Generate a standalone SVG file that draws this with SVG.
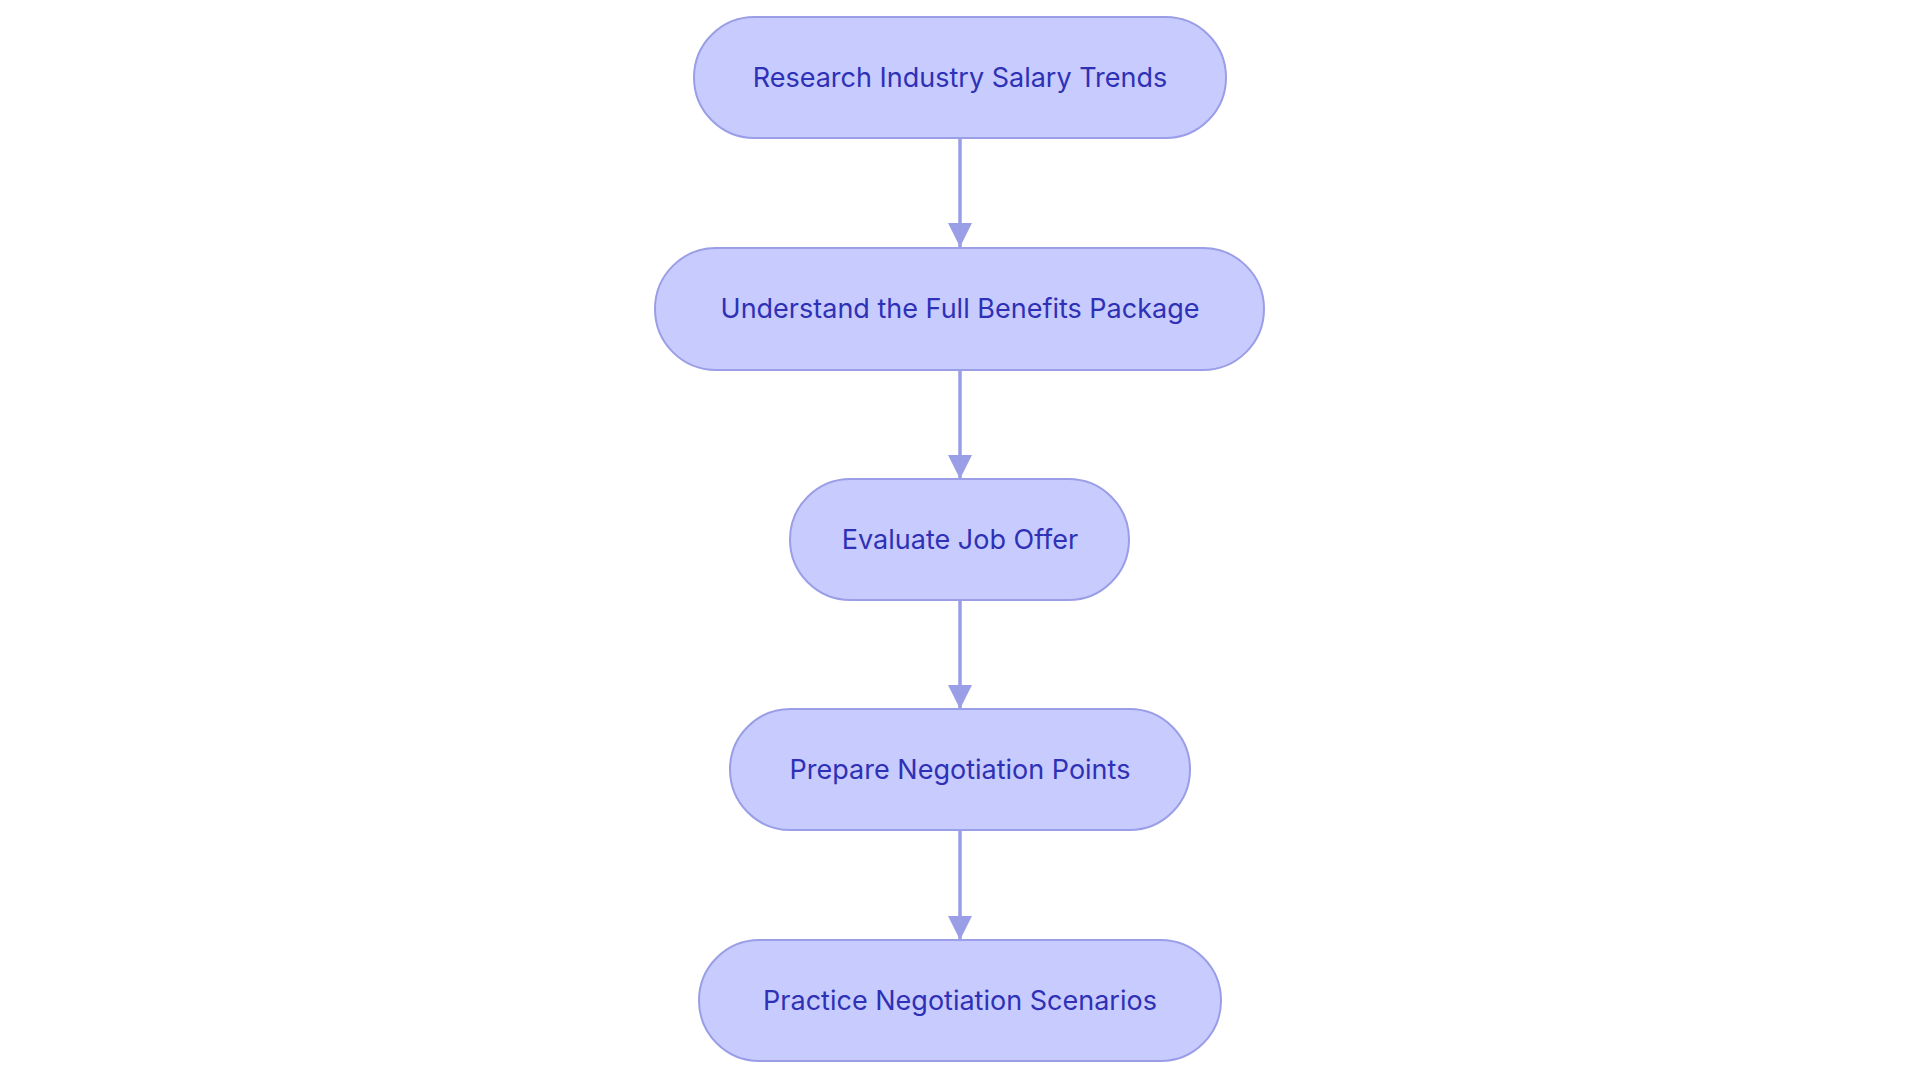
<svg xmlns="http://www.w3.org/2000/svg" width="1920" height="1083" viewBox="0 0 1920 1083">
<style>
.n rect{fill:#c8cbfe;stroke:#9a9ee6;stroke-width:2}
.n text{font-family:Inter,"Noto Sans",sans-serif;font-size:27px;fill:#2e31b5;text-anchor:middle;dominant-baseline:central}
.e line{stroke:#9a9ee6;stroke-width:3.5}
</style>
<defs><marker id="a" viewBox="0 0 10 10" refX="10" refY="5" markerWidth="7" markerHeight="7" markerUnits="strokeWidth" orient="auto"><path d="M0,0L10,5L0,10z" fill="#9a9ee6"/></marker></defs>
<rect width="1920" height="1083" fill="#fff"/>
<g class="e">
<line x1="960" y1="139" x2="960" y2="247" marker-end="url(#a)"/>
<line x1="960" y1="371" x2="960" y2="479" marker-end="url(#a)"/>
<line x1="960" y1="601" x2="960" y2="709" marker-end="url(#a)"/>
<line x1="960" y1="831" x2="960" y2="940" marker-end="url(#a)"/>
</g>
<g id="n1" class="n"><rect x="694" y="17" width="532" height="121" rx="60.5"/><text x="960" y="77">Research Industry Salary Trends</text></g>
<g id="n2" class="n"><rect x="655" y="248" width="609" height="122" rx="61"/><text x="960" y="308">Understand the Full Benefits Package</text></g>
<g id="n3" class="n"><rect x="790" y="479" width="339" height="121" rx="60.5"/><text x="960" y="539">Evaluate Job Offer</text></g>
<g id="n4" class="n"><rect x="730" y="709" width="460" height="121" rx="60.5"/><text x="960" y="769">Prepare Negotiation Points</text></g>
<g id="n5" class="n"><rect x="699" y="940" width="522" height="121" rx="60.5"/><text x="960" y="1000">Practice Negotiation Scenarios</text></g>
</svg>
